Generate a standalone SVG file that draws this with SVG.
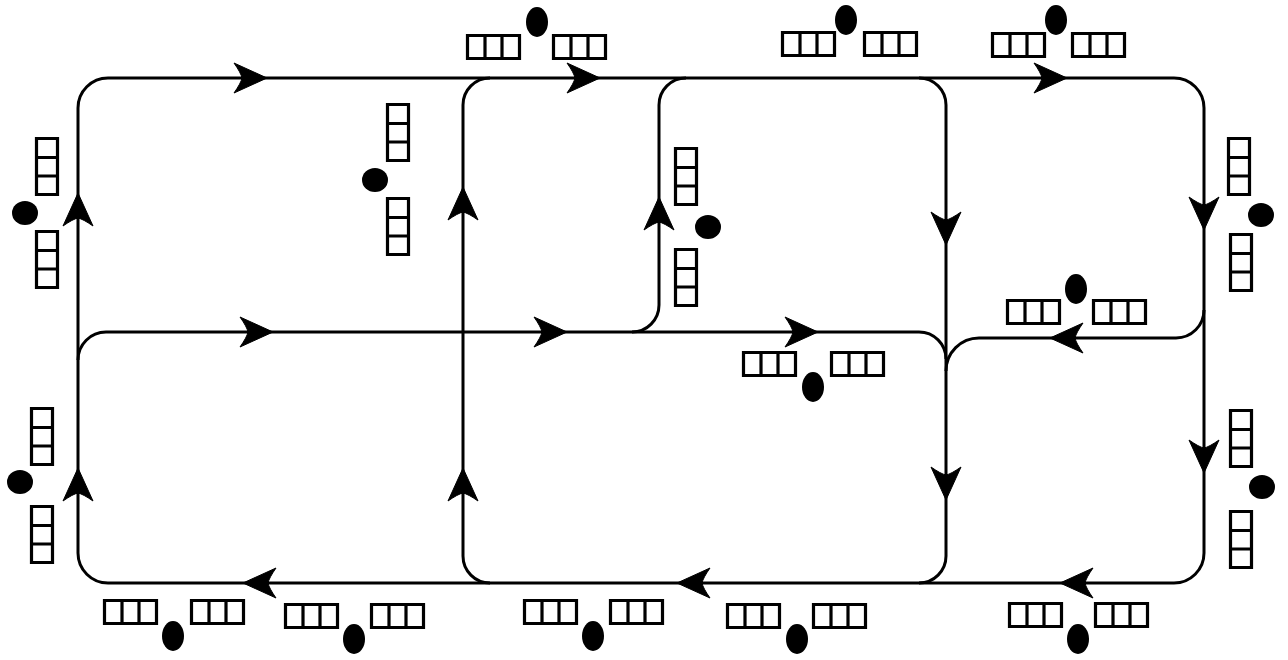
<svg xmlns="http://www.w3.org/2000/svg" xmlns:xlink="http://www.w3.org/1999/xlink" width="1288" height="660" viewBox="0 0 1288 660">
<style>
.ln{fill:none;stroke:#000;stroke-width:3}
.bx{fill:#fff;stroke:#000;stroke-width:3.2}
.dot{fill:#000}
.ah{fill:#000;stroke:#000;stroke-width:1;stroke-linejoin:round}
</style>
<defs>
<path id="hb" class="bx" d="M1.5,1.5 H53.5 V24.5 H1.5 Z M19,1.5 V24.5 M36,1.5 V24.5"/>
<path id="vb" class="bx" d="M1.5,1.5 H22.5 V57.5 H1.5 Z M1.5,20.5 H22.5 M1.5,39 H22.5"/>
<path id="ah" class="ah" d="M0,0 L-33,-15 Q-26,-5 -25,0 Q-26,5 -33,15 Z"/>
</defs>
<rect width="1288" height="660" fill="#fff"/>
<g id="connectors">
<path class="ln" d="M78,108 A30,30 0 0 1 108,78 L1174,78 A30,30 0 0 1 1204,108 L1204,553 A30,30 0 0 1 1174,583 L108,583 A30,30 0 0 1 78,553 Z"/>
<path class="ln" d="M78,360 A28,28 0 0 1 106,332 L919,332 A27,27 0 0 1 946,359"/>
<path class="ln" d="M632,332 A27,27 0 0 0 659,305 L659,105 A27,27 0 0 1 686,78"/>
<path class="ln" d="M490,78 A27,27 0 0 0 463,105 L463,556 A27,27 0 0 0 490,583"/>
<path class="ln" d="M919,78 A27,27 0 0 1 946,105 L946,556 A27,27 0 0 1 919,583"/>
<path class="ln" d="M1204,310 A28,28 0 0 1 1176,338 L979,338 A33,33 0 0 0 946,371"/>
<use href="#ah" transform="translate(267,78)"/>
<use href="#ah" transform="translate(600,78)"/>
<use href="#ah" transform="translate(1067,78)"/>
<use href="#ah" transform="translate(273,332)"/>
<use href="#ah" transform="translate(567,332)"/>
<use href="#ah" transform="translate(818,332)"/>
<use href="#ah" transform="translate(78,193) rotate(-90)"/>
<use href="#ah" transform="translate(78,468) rotate(-90)"/>
<use href="#ah" transform="translate(463,187) rotate(-90)"/>
<use href="#ah" transform="translate(463,468) rotate(-90)"/>
<use href="#ah" transform="translate(659,197) rotate(-90)"/>
<use href="#ah" transform="translate(946,245) rotate(90)"/>
<use href="#ah" transform="translate(946,500) rotate(90)"/>
<use href="#ah" transform="translate(1204,230) rotate(90)"/>
<use href="#ah" transform="translate(1204,473) rotate(90)"/>
<use href="#ah" transform="translate(1050,338) rotate(180)"/>
<use href="#ah" transform="translate(243,583) rotate(180)"/>
<use href="#ah" transform="translate(677,583) rotate(180)"/>
<use href="#ah" transform="translate(1060,583) rotate(180)"/>
</g>
<g id="n-top1"><use href="#hb" x="466" y="34"/><use href="#hb" x="552" y="34"/><ellipse class="dot" cx="537" cy="22" rx="11" ry="15"/></g>
<g id="n-top2"><use href="#hb" x="781" y="31"/><use href="#hb" x="863" y="31"/><ellipse class="dot" cx="846" cy="20" rx="11" ry="15"/></g>
<g id="n-top3"><use href="#hb" x="991" y="32"/><use href="#hb" x="1071" y="32"/><ellipse class="dot" cx="1056" cy="20" rx="11" ry="15"/></g>
<g id="n-left1"><use href="#vb" x="35" y="137"/><use href="#vb" x="35" y="230"/><ellipse class="dot" cx="25" cy="213" rx="13" ry="12"/></g>
<g id="n-left2"><use href="#vb" x="30" y="407"/><use href="#vb" x="30" y="505"/><ellipse class="dot" cx="20" cy="482" rx="13" ry="12"/></g>
<g id="n-mid1"><use href="#vb" x="386" y="103"/><use href="#vb" x="386" y="197"/><ellipse class="dot" cx="375" cy="180" rx="13" ry="12"/></g>
<g id="n-mid2"><use href="#vb" x="674" y="147"/><use href="#vb" x="674" y="248"/><ellipse class="dot" cx="708" cy="227" rx="13" ry="12"/></g>
<g id="n-right1"><use href="#vb" x="1227" y="137"/><use href="#vb" x="1229" y="233"/><ellipse class="dot" cx="1261" cy="215" rx="13" ry="12"/></g>
<g id="n-midright"><use href="#hb" x="1006" y="299"/><use href="#hb" x="1092" y="299"/><ellipse class="dot" cx="1076" cy="289" rx="11" ry="15"/></g>
<g id="n-midlow"><use href="#hb" x="742" y="351"/><use href="#hb" x="830" y="351"/><ellipse class="dot" cx="813" cy="387" rx="11" ry="15"/></g>
<g id="n-right2"><use href="#vb" x="1229" y="409"/><use href="#vb" x="1229" y="510"/><ellipse class="dot" cx="1262" cy="487" rx="13" ry="12"/></g>
<g id="n-bot1"><use href="#hb" x="103" y="599"/><use href="#hb" x="190" y="599"/><ellipse class="dot" cx="173" cy="636" rx="11" ry="15"/></g>
<g id="n-bot2"><use href="#hb" x="284" y="603"/><use href="#hb" x="370" y="603"/><ellipse class="dot" cx="354" cy="639" rx="11" ry="15"/></g>
<g id="n-bot3"><use href="#hb" x="523" y="599"/><use href="#hb" x="609" y="599"/><ellipse class="dot" cx="593" cy="636" rx="11" ry="15"/></g>
<g id="n-bot4"><use href="#hb" x="726" y="603"/><use href="#hb" x="812" y="603"/><ellipse class="dot" cx="797" cy="639" rx="11" ry="15"/></g>
<g id="n-bot5"><use href="#hb" x="1008" y="602"/><use href="#hb" x="1094" y="602"/><ellipse class="dot" cx="1078" cy="639" rx="11" ry="15"/></g>
</svg>
